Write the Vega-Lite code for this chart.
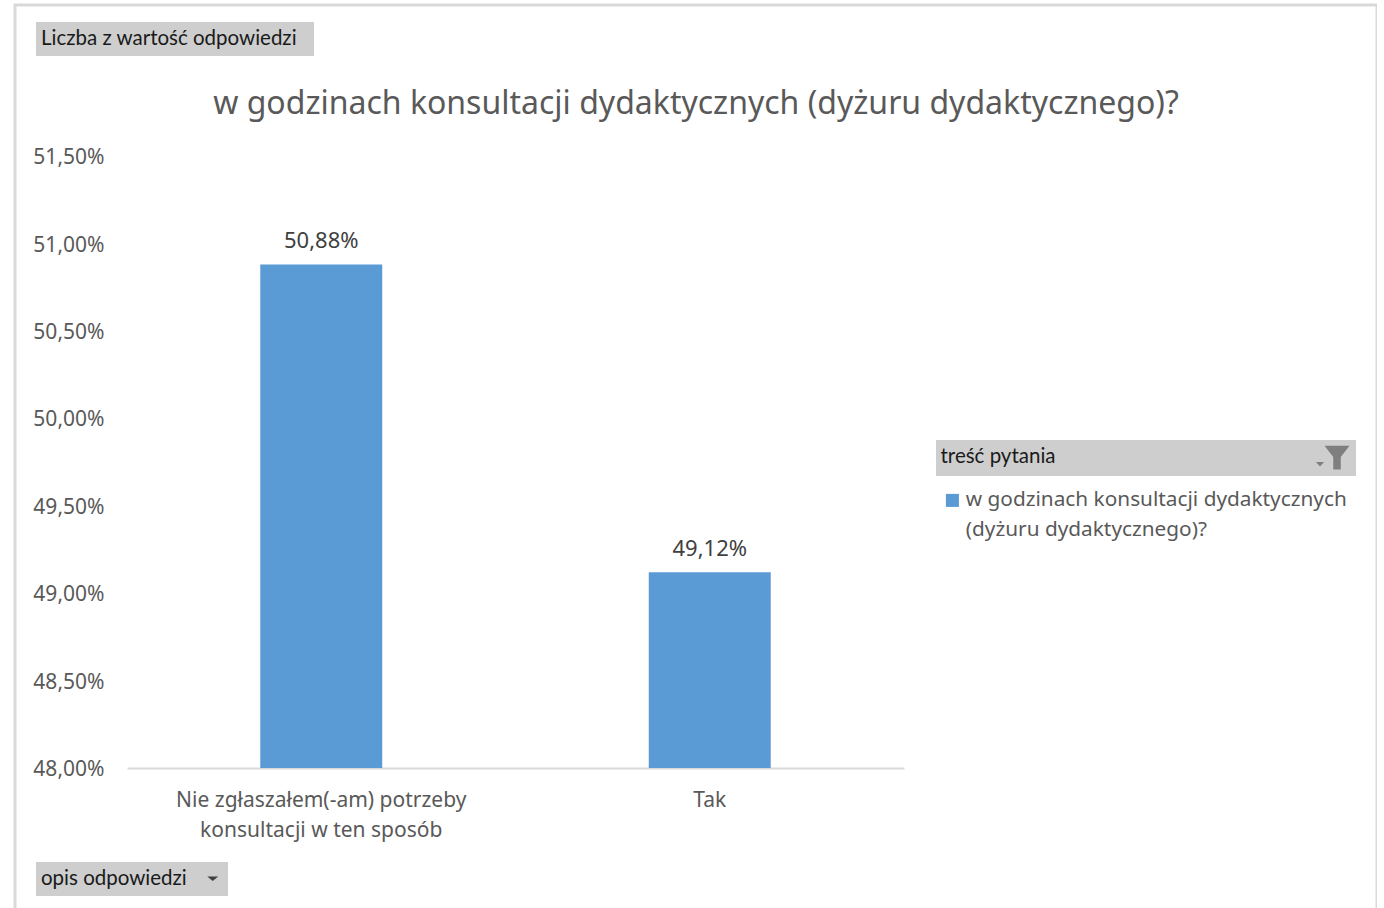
{
"$schema":"https://vega.github.io/schema/vega-lite/v6.json",
"width":1362,"height":910,
"autosize":{"type":"none"},
"padding":{"left":15,"top":5,"right":0,"bottom":0},
"background":"white",
"config":{
 "font":"Noto Sans",
 "locale":{"number":{"decimal":",","thousands":" ","grouping":[3],"currency":["","zł"]}},
 "style":{"guide-label":{"lineHeight":30}},
 "view":{"stroke":"#d9d9d9","strokeWidth":3}
},
"title":{"text":"w godzinach konsultacji dydaktycznych (dyżuru dydaktycznego)?","orient":"top","anchor":"middle","fontSize":32,"fontWeight":"normal","color":"#595959","offset":-116,"font":"Noto Sans"},
"layer":[
 {"data":{"values":[
  {"odpowiedz":"Nie zgłaszałem(-am) potrzeby konsultacji w ten sposób","wartosc":0.5088,"pytanie":"w godzinach konsultacji dydaktycznych (dyżuru dydaktycznego)?"},
  {"odpowiedz":"Tak","wartosc":0.4912,"pytanie":"w godzinach konsultacji dydaktycznych (dyżuru dydaktycznego)?"}]},
  "layer":[
   {"mark":{"type":"bar"},
    "encoding":{
     "x":{"field":"odpowiedz","type":"nominal","sort":null,
      "scale":{"range":[112,889],"paddingInner":0.686,"paddingOuter":0.343},
      "axis":{"title":null,"labelAngle":0,"offset":-147,"ticks":false,"domainColor":"#d9d9d9","domainWidth":2,"labelColor":"#595959","labelFontSize":21,"labelPadding":32,"labelLineHeight":30,"labelLimit":400,"labelBaseline":"middle",
       "labelExpr":"split(replace(datum.label,' konsultacji','|konsultacji'),'|')"}},
     "y":{"field":"wartosc","type":"quantitative",
      "scale":{"domain":[0.48,0.515],"range":[763,151],"nice":false,"zero":false},
      "axis":{"title":null,"format":".2%","values":[0.48,0.485,0.49,0.495,0.5,0.505,0.51,0.515],"grid":false,"domain":false,"ticks":false,"offset":-89,"labelColor":"#595959","labelFontSize":21,"labelPadding":0,"labelOffset":1.6}},
     "y2":{"datum":0.48},
     "color":{"field":"pytanie","type":"nominal",
      "scale":{"range":["#5b9bd5"]},
      "legend":{"orient":"none","legendX":927,"legendY":485,"title":null,"symbolType":"square","symbolSize":170,"symbolOpacity":1,"labelFontSize":20.8,"labelColor":"#595959","labelLimit":420,"labelOffset":3,"labelBaseline":"middle","labelExpr":"split(replace(datum.label,' (dyżuru','|(dyżuru'),'|')","padding":0}}
    }},
   {"mark":{"type":"text","dy":-23,"fontSize":22,"color":"#404040"},
    "encoding":{
     "x":{"field":"odpowiedz","type":"nominal","sort":null},
     "y":{"field":"wartosc","type":"quantitative"},
     "text":{"field":"wartosc","type":"quantitative","format":".2%"}}}
  ]},
 {"data":{"values":[{"pole":"Liczba z wartość odpowiedzi"}]},
  "mark":{"type":"point","size":0,"opacity":0,"filled":true},
  "encoding":{"shape":{"field":"pole","type":"nominal","scale":{"range":["M-1 -1 L1 -1 L1 1 L-1 1 Z"]},
   "legend":{"orient":"none","legendX":21,"legendY":17,"title":null,"fillColor":"#cecece","padding":6.5,"symbolSize":120,"symbolOpacity":0,"symbolOffset":249,"labelOffset":-271,"labelFontSize":20.5,"labelFont":"Lato","labelColor":"#1a1a1a","labelLimit":400}}}},
 {"data":{"values":[{"pole":"opis odpowiedzi"}]},
  "mark":{"type":"point","size":0,"opacity":0,"filled":true,"color":"#404040"},
  "encoding":{"strokeDash":{"field":"pole","type":"nominal","scale":{"range":[[1,0]]},
   "legend":{"orient":"none","legendX":21,"legendY":857,"title":null,"fillColor":"#cecece","padding":6.5,"symbolType":"M-1 -0.4 L1 -0.4 L0 0.4 Z","symbolSize":120,"symbolOpacity":1,"symbolOffset":160,"labelOffset":-182,"labelFontSize":20.5,"labelFont":"Lato","labelColor":"#1a1a1a","labelLimit":400}}}},
 {"data":{"values":[{"pole":"treść pytania"}]},
  "mark":{"type":"point","size":0,"filled":true,"color":"#7f7f7f"},
  "encoding":{"opacity":{"field":"pole","type":"nominal","scale":{"range":[1]},
   "legend":{"orient":"none","legendX":921,"legendY":435,"title":null,"fillColor":"#cecece","padding":3.5,"symbolType":"M-1 -0.9 L1 -0.9 L0.3 0 L0.3 1 L-0.3 1 L-0.3 0 Z M-1.68 0.4 L-1.04 0.4 L-1.36 0.75 Z","symbolSize":625,"symbolOpacity":1,"symbolOffset":384,"labelOffset":-410,"labelFontSize":20.5,"labelFont":"Lato","labelColor":"#1a1a1a","labelLimit":400}}}}
]
}
